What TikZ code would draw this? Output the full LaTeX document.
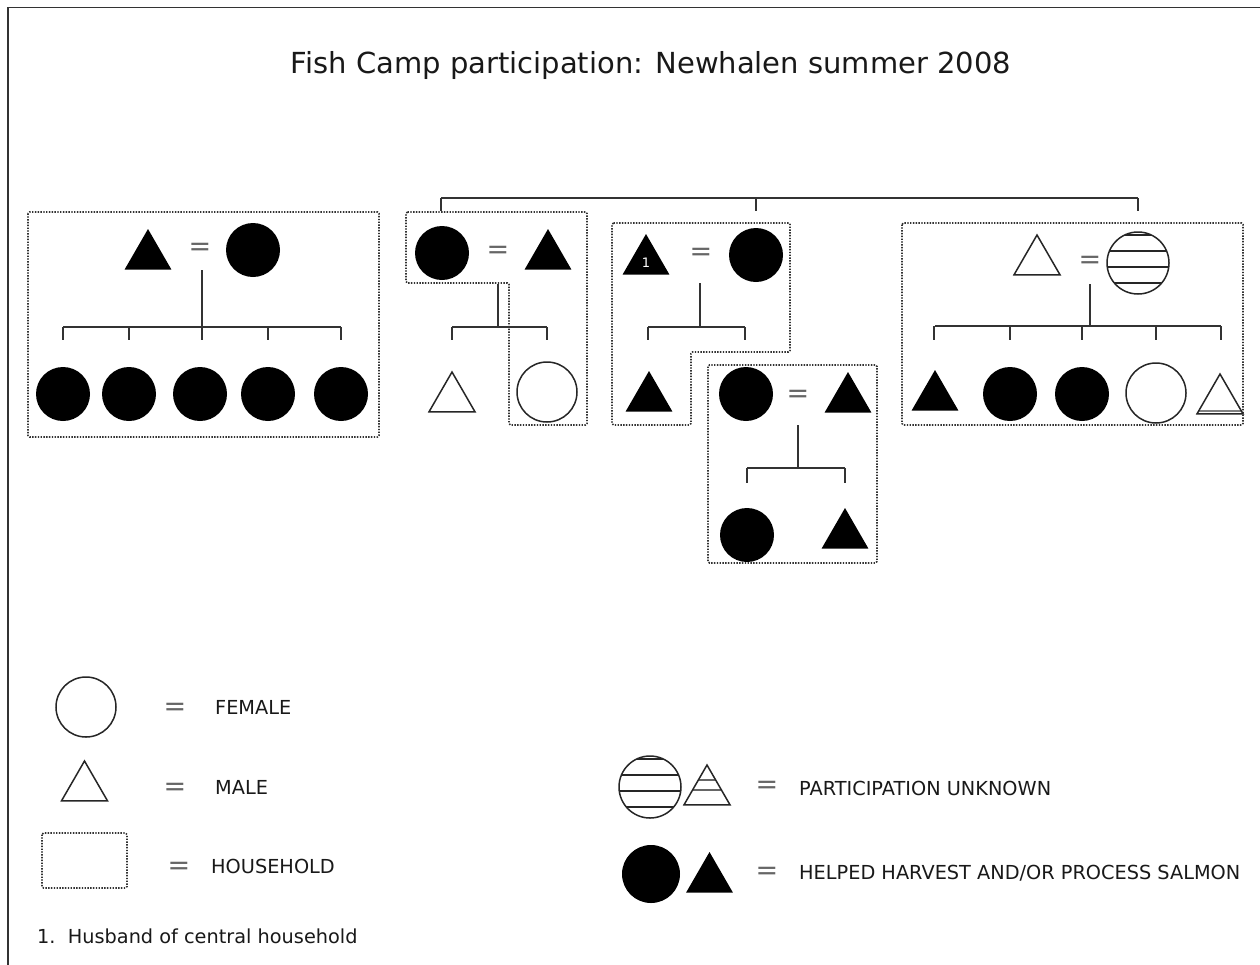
\documentclass[tikz,border=0pt]{standalone}
\usepackage{fontspec}
\setmainfont{DejaVu Sans}
\usetikzlibrary{shapes.geometric}
\begin{document}
\begin{tikzpicture}[x=1pt,y=-1pt,
  fem/.style={circle, draw=black!85, line width=1.5pt, minimum size=60, inner sep=0, outer sep=0},
  femf/.style={circle, fill=black, minimum size=54, inner sep=0, outer sep=0},
  mal/.style={regular polygon, regular polygon sides=3, draw=black!85, line width=1.5pt, minimum size=53, inner sep=0, outer sep=0, anchor=corner 1},
  malf/.style={regular polygon, regular polygon sides=3, fill=black, minimum size=54, inner sep=0, outer sep=0, anchor=corner 1},
  cstripes/.style={path picture={\foreach \d in {28,12,-4,-20}{\draw[black!85,line width=1.4pt] ([xshift=-40pt,yshift=\d pt]path picture bounding box.center) -- ++(80,0);}}},
  tstripes/.style={path picture={\foreach \d in {5,-5}{\draw[black!60,line width=1.4pt] ([xshift=-40pt,yshift=\d pt]path picture bounding box.center) -- ++(80,0);}}},
  bstripe/.style={path picture={\draw[black!50,line width=2pt] ([xshift=-40pt,yshift=-17pt]path picture bounding box.center) -- ++(80,0);}},
  hh/.style={draw=black!80, line width=1.6pt, dash pattern=on 1.4pt off 1.4pt, rounded corners=1.5pt},
  kin/.style={draw=black!80, line width=1.7pt},
  eq/.style={text=black!60, inner sep=0, font=\fontsize{27}{27}\selectfont},
  lab/.style={anchor=west, inner sep=0, text=black!90, font=\fontsize{19.3}{22}\selectfont}
]
\useasboundingbox (0,0) rectangle (1260,964);
\fill[white] (0,0) rectangle (1260,964);
\draw[line width=1.8pt, black!80] (8,980) -- (8,7.5) -- (1280,7.5);

\node[anchor=base, inner sep=0, text=black!90, font=\fontsize{29}{34}\selectfont] (title) at (651,73) {Fish Camp participation: Newhalen summer 2008};

% top sibling bar
\coordinate (t1) at (441,198);
\coordinate (t2) at (756,198);
\coordinate (t3) at (1138,198);
\draw[kin] (t1) -- (t3);
\foreach \t in {t1,t2,t3} \draw[kin] (\t) -- ++(0,13);

% household 1
\draw[hh] (28,212) rectangle (379,437);
\node[malf] (a1) at (148,229) {};
\node[eq] (ae) at (200,249) {=};
\node[femf] (a2) at (253,250) {};
\node[femf] (a3) at (63,394) {};
\node[femf] (a4) at (129,394) {};
\node[femf] (a5) at (200,394) {};
\node[femf] (a6) at (268,394) {};
\node[femf] (a7) at (341,394) {};
\coordinate (am) at (202,270);
\coordinate (ab) at (202,327);
\draw[kin] (am) -- (ab);
\draw[kin] (a3 |- ab) -- (a7 |- ab);
\foreach \c in {a3,a4,a6,a7} \draw[kin] (\c |- ab) -- ++(0,13);
\draw[kin] (ab) -- ++(0,13);

% household 2
\draw[hh] (406,212) -- (587,212) -- (587,425) -- (509,425) -- (509,283) -- (406,283) -- cycle;
\node[femf] (b1) at (442,253) {};
\node[eq] (be) at (498,252) {=};
\node[malf] (b2) at (548,229) {};
\node[mal] (b3) at (452,372) {};
\node[fem] (b4) at (547,392) {};
\coordinate (bm) at (498,284);
\coordinate (bb) at (498,327);
\draw[kin] (bm) -- (bb);
\draw[kin] (b3.corner 1 |- bb) -- (b4 |- bb);
\foreach \c in {b3.corner 1,b4} \draw[kin] (\c |- bb) -- ++(0,13);

% household 3
\draw[hh] (612,223) -- (790,223) -- (790,352) -- (691,352) -- (691,425) -- (612,425) -- cycle;
\node[malf] (c1) at (646,234) {};
\node[text=white, inner sep=0, font=\fontsize{13}{13}\selectfont] (c1n) at (646,263) {1};
\node[eq] (ce) at (701,254) {=};
\node[femf] (c2) at (756,255) {};
\node[malf] (c3) at (649,371) {};
\coordinate (cm) at (700,283);
\coordinate (cb) at (700,327);
\draw[kin] (cm) -- (cb);
\draw[kin] (648,327) -- (745,327);
\draw[kin] (648,327) -- ++(0,13);
\draw[kin] (745,327) -- ++(0,13);

% household 4
\draw[hh] (708,365) rectangle (877,563);
\node[femf] (d1) at (746,394) {};
\node[eq] (de) at (798,396) {=};
\node[malf] (d2) at (848,372) {};
\node[femf] (d3) at (747,535) {};
\node[malf] (d4) at (845,508) {};
\coordinate (dm) at (798,425);
\coordinate (db) at (798,468);
\draw[kin] (dm) -- (db);
\draw[kin] (d3 |- db) -- (d4.corner 1 |- db);
\foreach \c in {d3,d4.corner 1} \draw[kin] (\c |- db) -- ++(0,15);

% household 5
\draw[hh] (902,223) rectangle (1243,425);
\node[mal] (e1) at (1037,235) {};
\node[eq] (ee) at (1090,262) {=};
\node[fem, cstripes, minimum size=62] (e2) at (1138,263) {};
\node[malf] (e3) at (935,370) {};
\node[femf] (e4) at (1010,394) {};
\node[femf] (e5) at (1082,394) {};
\node[fem] (e6) at (1156,393) {};
\node[mal, bstripe] (e7) at (1220,374) {};
\coordinate (em) at (1090,284);
\coordinate (eb) at (1090,326);
\draw[kin] (em) -- (eb);
\draw[kin] (e3.corner 1 |- eb) -- (1221,326);
\foreach \xx in {934,1010,1082,1156,1221} \draw[kin] (\xx,326) -- ++(0,14);

% legend
\node[fem] (l1) at (86,707) {};
\node[eq] (l1e) at (175,709) {=};
\node[lab] (l1t) at (215,707) {FEMALE};
\node[mal] (l2) at (84.5,761) {};
\node[eq] (l2e) at (175,789) {=};
\node[lab] (l2t) at (215,787) {MALE};
\draw[hh] (42,833) rectangle (127,888);
\node[eq] (l3e) at (179,868) {=};
\node[lab] (l3t) at (211,866) {HOUSEHOLD};
\node[lab] (fn) at (37,936) {1.\ \ Husband of central household};

\node[fem, cstripes, minimum size=62] (l4) at (650,787) {};
\node[mal, tstripes] (l5) at (707,765) {};
\node[eq] (l4e) at (767,787) {=};
\node[lab] (l4t) at (799,788) {PARTICIPATION UNKNOWN};
\node[femf, minimum size=58] (l6) at (651,874) {};
\node[malf] (l7) at (709.5,852) {};
\node[eq] (l6e) at (767,873) {=};
\node[lab] (l6t) at (799,873) {HELPED HARVEST AND/OR PROCESS SALMON};
\end{tikzpicture}
\end{document}
